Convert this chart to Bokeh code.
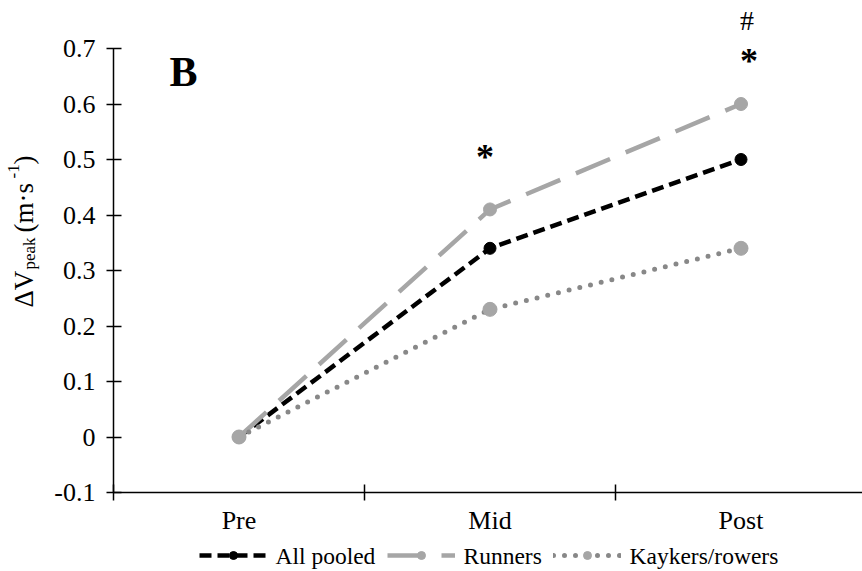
import math
from bokeh.plotting import figure
from bokeh.models import FixedTicker, Label, ColumnDataSource, Legend, LegendItem
from bokeh.core.properties import value
from bokeh.embed import file_html
from bokeh.resources import INLINE

# ---- data ----
categories = ["Pre", "Mid", "Post"]
pooled = [0.0, 0.34, 0.50]
runners = [0.0, 0.41, 0.60]
kayakers = [0.0, 0.23, 0.34]
series_names = ["All pooled", "Runners", "Kaykers/rowers"]
y_ticks = [-0.1, 0, 0.1, 0.2, 0.3, 0.4, 0.5, 0.6, 0.7]
y_tick_labels = ["-0.1", "0", "0.1", "0.2", "0.3", "0.4", "0.5", "0.6", "0.7"]
sig_cat = ["Mid", "Post", "Post"]
sig_text = ["*", "*", "#"]
sig_y = [0.505, 0.678, 0.751]

FONT = "Liberation Serif"
xs = [categories.index(c) + 1 for c in categories]

W, H = 862, 571
AX_LEFT_PX, PX_PER_X = 113.0, 251.0        # page x of x=0.5, px per category
Y07_PX, PX_PER_Y = 48.0, 555.0             # page y of y=0.7, px per unit
X_START = 0.5 - AX_LEFT_PX / PX_PER_X
X_END = 0.5 + (W - AX_LEFT_PX) / PX_PER_X
Y_END = 0.7 + Y07_PX / PX_PER_Y
Y_START = 0.7 - (H - Y07_PX) / PX_PER_Y

def dx(px):
    return 0.5 + (px - AX_LEFT_PX) / PX_PER_X
def dy(py):
    return 0.7 - (py - Y07_PX) / PX_PER_Y

p = figure(width=W, height=H, x_range=(X_START, X_END), y_range=(Y_START, Y_END),
           output_backend="svg", toolbar_location=None,
           min_border_left=0, min_border_right=0, min_border_top=0, min_border_bottom=0)
p.outline_line_color = None
p.xgrid.visible = False
p.ygrid.visible = False
p.background_fill_color = "white"
p.border_fill_color = "white"

# x axis
xa = p.xaxis[0]
xa.fixed_location = -0.1
xa.bounds = (0.5, X_END)
xa.ticker = FixedTicker(ticks=xs, minor_ticks=[0.5, 1.5, 2.5, 3.5])
xa.major_label_overrides = {x: c for x, c in zip(xs, categories)}
xa.major_tick_line_color = None
xa.major_tick_in = 0
xa.major_tick_out = 0
xa.minor_tick_line_color = "black"
xa.minor_tick_line_width = 1.5
xa.minor_tick_in = 8
xa.minor_tick_out = 8
xa.axis_line_color = "black"
xa.axis_line_width = 1.5
xa.major_label_text_font = FONT
xa.major_label_text_font_size = "26px"
xa.major_label_text_color = "black"
xa.major_label_standoff = 5

# y axis
ya = p.yaxis[0]
ya.fixed_location = 0.5
ya.ticker = FixedTicker(ticks=y_ticks, minor_ticks=[])
ya.major_label_overrides = {t: l for t, l in zip(y_ticks, y_tick_labels)}
ya.bounds = (-0.1, 0.7)
ya.major_tick_line_color = "black"
ya.major_tick_line_width = 1.5
ya.major_tick_in = 8
ya.major_tick_out = 7
ya.minor_tick_line_color = None
ya.axis_line_color = "black"
ya.axis_line_width = 1.5
ya.major_label_text_font = FONT
ya.major_label_text_font_size = "26px"
ya.major_label_text_color = "black"
ya.major_label_standoff = 11

# series
l1 = p.line(xs, pooled, line_color="black", line_width=4.5, line_dash="12 6")
s1 = p.scatter(xs, pooled, size=12, fill_color="black", line_color="black")

l2 = p.line(xs, runners, line_color="#A6A6A6", line_width=4.5, line_dash="37 17")
s2 = p.scatter(xs, runners, size=13, fill_color="#A6A6A6", line_color="#A6A6A6")

l3 = p.line(xs, kayakers, line_color="#888888", line_width=5, line_dash="0 11", line_cap="round")
s3 = p.scatter(xs, kayakers, size=14, fill_color="#A6A6A6", line_color="#A6A6A6")

# significance markers
sig_x = [categories.index(c) + 1 for c in sig_cat]
SIG_DX = [-5, 8, 6]          # small horizontal nudges (px)
SIG_SIZE = ["36px", "36px", "28px"]
SIG_STYLE = ["bold", "bold", "normal"]
src = ColumnDataSource(dict(x=sig_x, y=sig_y, t=sig_text, dx=SIG_DX, fs=SIG_SIZE, st=SIG_STYLE))
p.text(x="x", y="y", text="t", x_offset="dx", text_font_size="fs", text_font_style="st",
       text_font=value(FONT), text_align="center", text_baseline="alphabetic",
       text_color="black", source=src)

# panel letter
p.add_layout(Label(x=dx(169), y=dy(94), text="B", text_font=FONT, text_font_size="42px",
                   text_font_style="bold", text_color="black"))

# y-axis title with sub/superscript
parts = [("ΔV", "27px", 23, 307),
         ("peak", "17px", 29, 269),
         (" (m·s", "27px", 23, 232),
         ("-1", "17px", 13, 178),
         (")", "27px", 23, 164)]
for t, fs, bx, by in parts:
    p.add_layout(Label(x=dx(bx), y=dy(by), text=t, text_font=FONT, text_font_size=fs,
                       angle=math.pi / 2, text_align="left", text_baseline="alphabetic",
                       text_color="black"))

# legend: glyph samples via Bokeh legends, serif labels beside them
LEG_GLYPH_LEFT = [199, 387, 553]   # page px of each sample's left edge
LEG_TEXT_LEFT = [275, 463, 629]    # page px of each label's left edge
LEG_CENTER_Y = 555
GLYPH_W, GLYPH_H = 68, 20
for (ln, sc), name, gx, tx in zip([(l1, s1), (l2, s2), (l3, s3)], series_names,
                                 LEG_GLYPH_LEFT, LEG_TEXT_LEFT):
    leg = Legend(items=[LegendItem(label=value(""), renderers=[ln, sc])],
                 location=(gx, H - LEG_CENTER_Y - GLYPH_H // 2),
                 orientation="horizontal", glyph_width=GLYPH_W, glyph_height=GLYPH_H,
                 label_standoff=0, label_width=0, label_height=GLYPH_H, padding=0, margin=0,
                 spacing=0, border_line_color=None, background_fill_alpha=0)
    p.add_layout(leg)
    p.add_layout(Label(x=dx(tx), y=dy(LEG_CENTER_Y), text=name, text_font=FONT,
                       text_font_size="23.5px", text_baseline="middle", text_align="left",
                       text_color="black"))

open("out.html", "w").write(file_html(p, INLINE))
